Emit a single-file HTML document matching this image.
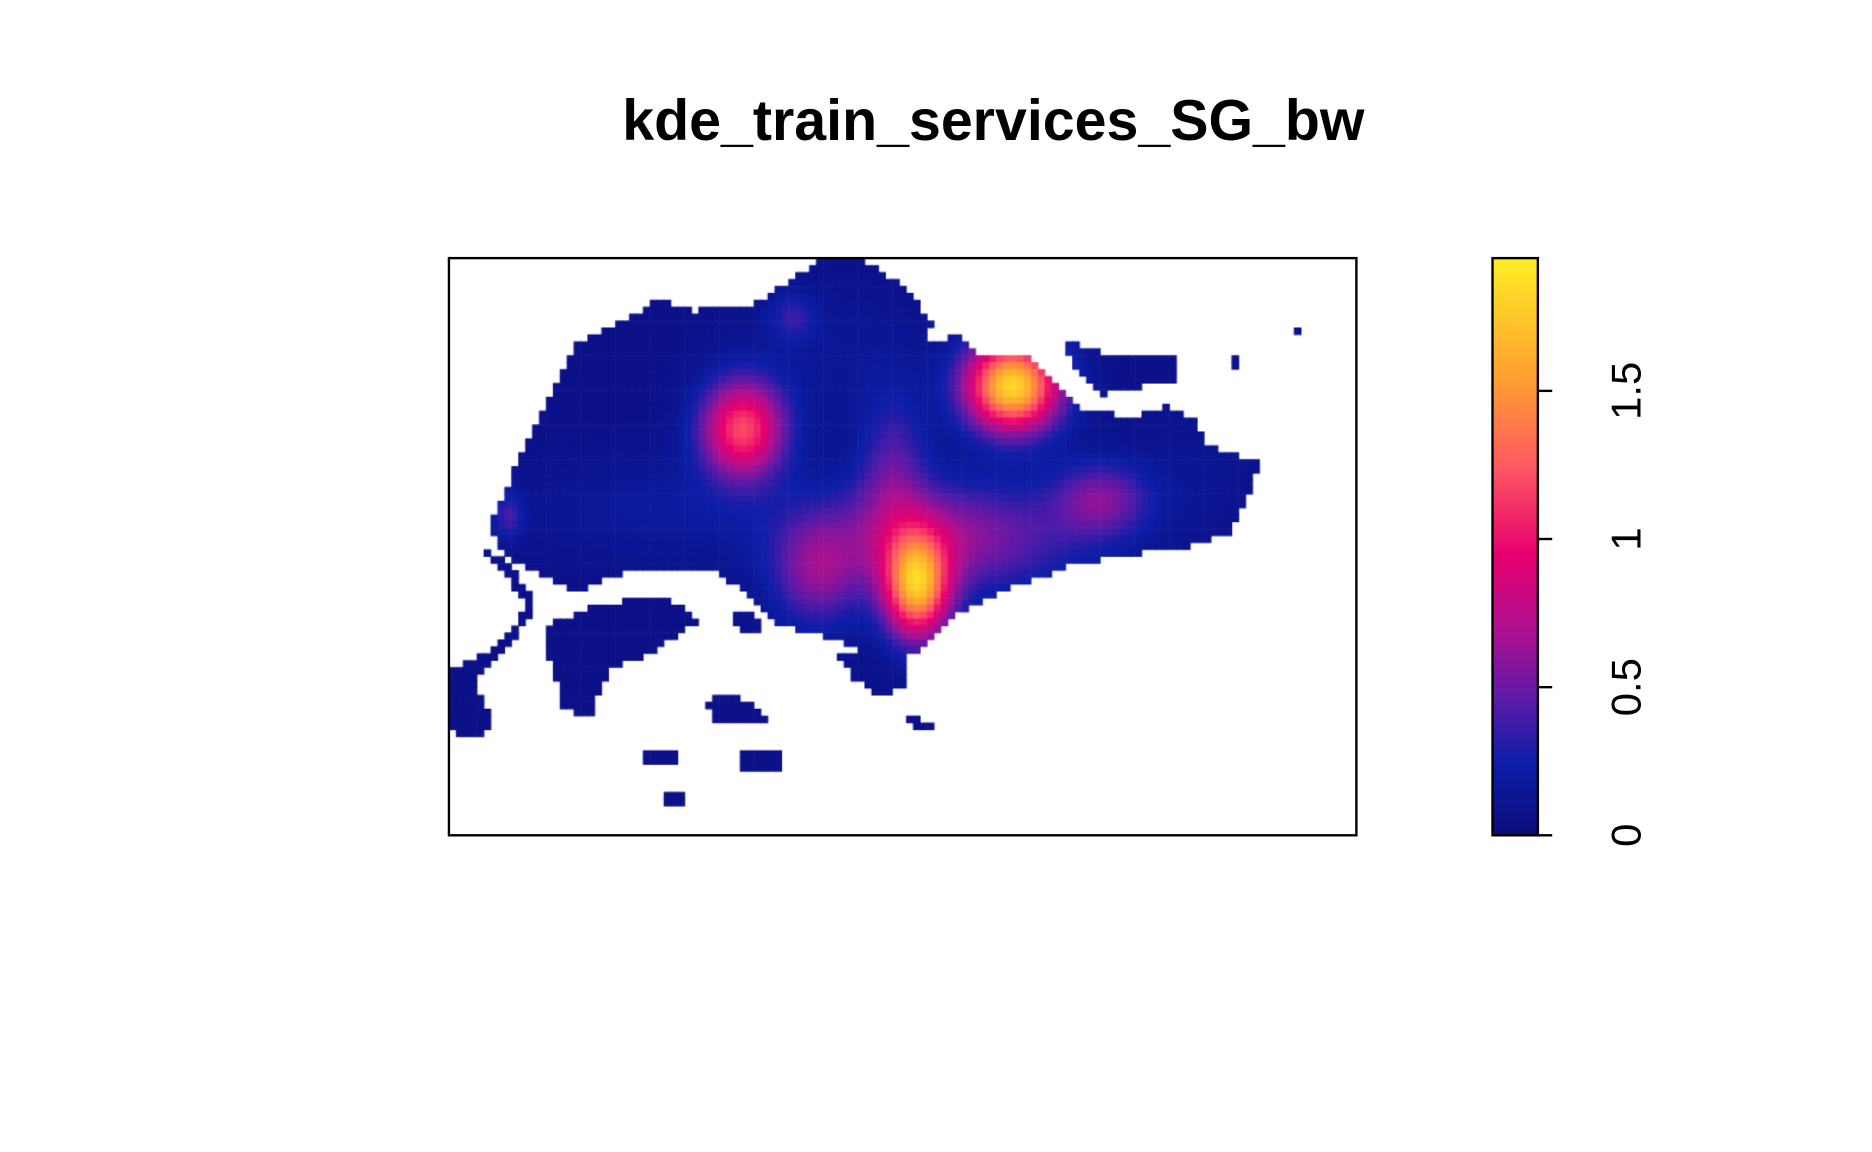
<!DOCTYPE html>
<html><head><meta charset="utf-8"><style>
html,body{margin:0;padding:0;background:#fff;overflow:hidden}
#wrap{position:absolute;left:0;top:0;width:1568px;height:964px;transform-origin:0 0;transform:scale(1.194,1.195)}
svg,canvas{position:absolute;left:0;top:0}
</style></head><body>
<div id="wrap">
<canvas id="cv" width="1568" height="964"></canvas>
<svg id="sv" width="1568" height="964">
<text x="832" y="117" text-anchor="middle" font-family="Liberation Sans, sans-serif" font-weight="bold" font-size="48">kde_train_services_SG_bw</text>
<rect x="376" y="216" width="760" height="483" fill="none" stroke="#000" stroke-width="2"/>
<defs><linearGradient id="cg" x1="0" y1="1" x2="0" y2="0"></linearGradient></defs>
<rect x="1250" y="216" width="38" height="483" fill="url(#cg)" stroke="#000" stroke-width="2"/>
<g id="ticks"></g>
</svg>
</div>
<script>
const legendTicks=[0,0.5,1,1.5];
const legendTickLabels=["0","0.5","1","1.5"];
const zMax=1.948;
const stopVals=[0,0.25,0.45,0.7,0.95,1.25,1.55,1.95];
const stopCols=["#0b0c7c","#0d1ea8","#5a1aa8","#b0108f","#e8006e","#ff5a62","#ffa030","#ffee25"];
// hotspots: x, y (plot coords), amplitude, spread x/y
const hotX=[622,848,768,790,748,922,684,664,426,560,1000,700];
const hotY=[359,323,491,450,395,418,480,265,432,425,400,300];
const hotA=[1.1,1.75,1.5,0.55,0.35,0.45,0.45,0.25,0.3,0.12,0.06,0.08];
const hotSX=[24,27,19,75,20,28,26,14,9,80,40,60];
const hotSY=[28,26,30,32,45,22,32,14,13,30,40,40];
const baseLevel=0.07;
const land=[
[[430,395],[440,375],[465,320],[485,285],[530,265],[550,250],[580,260],[630,255],[660,235],[690,216],[720,216],[760,240],[780,270],[775,290],[800,280],[820,295],[860,298],[885,320],[910,345],[950,348],[975,340],[1000,350],[1010,372],[1055,388],[1042,420],[1030,445],[990,458],[960,462],[900,472],[850,490],[820,505],[800,515],[770,545],[720,545],[700,535],[650,522],[630,500],[600,480],[570,475],[520,480],[480,495],[450,480],[420,462],[410,440]],
[[405,460],[425,468],[445,500],[425,530],[405,548],[385,558],[378,560],[378,612],[405,618],[410,600],[398,572],[412,552],[432,532],[447,512]],
[[455,525],[500,505],[560,500],[585,520],[548,545],[512,560],[492,603],[472,592],[462,560]],
[[590,585],[615,580],[645,600],[640,606],[600,604]],
[[540,625],[570,625],[570,638],[540,638]],
[[620,628],[655,628],[655,645],[620,645]],
[[555,660],[572,660],[572,672],[555,672]],
[[700,545],[755,542],[760,575],[735,582],[712,565]],
[[890,285],[910,290],[940,300],[985,300],[985,320],[940,325],[925,330],[900,310]],
[[1030,295],[1040,295],[1040,307],[1030,307]],
[[608,508],[630,515],[640,528],[620,530]],
[[760,600],[785,605],[770,612]],
[[1083,272],[1089,272],[1089,278],[1083,278]]
];
function hexRGB(h){return [1,3,5].map(i=>parseInt(h.substr(i,2),16));}
function cmap(v){
 if(v<=stopVals[0])return hexRGB(stopCols[0]);
 for(let i=1;i<stopVals.length;i++){if(v<=stopVals[i]){const t=(v-stopVals[i-1])/(stopVals[i]-stopVals[i-1]);const a=hexRGB(stopCols[i-1]),b=hexRGB(stopCols[i]);return a.map((c,k)=>Math.round(c+(b[k]-c)*t));}}
 return hexRGB(stopCols[stopCols.length-1]);
}
const cv=document.getElementById('cv'),ctx=cv.getContext('2d');
const path=new Path2D();
land.forEach(p=>{path.moveTo(p[0][0],p[0][1]);p.slice(1).forEach(q=>path.lineTo(q[0],q[1]));path.closePath();});
const step=5.8;
for(let y=216;y<699;y+=step){for(let x=376;x<1136;x+=step){
 const cx=x+step/2,cy=y+step/2;
 if(!ctx.isPointInPath(path,cx,cy))continue;
 let v=baseLevel;
 for(let i=0;i<hotX.length;i++){const dx=(cx-hotX[i])/hotSX[i],dy=(cy-hotY[i])/hotSY[i];v+=hotA[i]*Math.exp(-(dx*dx+dy*dy)/2);}
 const c=cmap(Math.min(v,zMax));ctx.fillStyle=`rgb(${c[0]},${c[1]},${c[2]})`;ctx.fillRect(x,y,step+0.6,step+0.6);
}}
const ns='http://www.w3.org/2000/svg';
const g=document.getElementById('cg');
stopVals.forEach((v,i)=>{const s=document.createElementNS(ns,'stop');s.setAttribute('offset',Math.min(v/zMax,1));s.setAttribute('stop-color',stopCols[i]);g.appendChild(s);});
const yS=v=>699-v/zMax*483;
const tg=document.getElementById('ticks');
legendTicks.forEach((v,i)=>{
 const l=document.createElementNS(ns,'line');
 
 
 l.setAttribute('x1',1288);l.setAttribute('x2',1300);l.setAttribute('y1',yS(v));l.setAttribute('y2',yS(v));l.setAttribute('stroke','#000');l.setAttribute('stroke-width',2);tg.appendChild(l);
 const t=document.createElementNS(ns,'text');
 
 
 t.setAttribute('transform',`translate(1374,${yS(v)}) rotate(-90)`);t.setAttribute('text-anchor','middle');t.setAttribute('font-family','Liberation Sans, sans-serif');t.setAttribute('font-size','35');t.textContent=legendTickLabels[i];tg.appendChild(t);
});
</script>
</body></html>
